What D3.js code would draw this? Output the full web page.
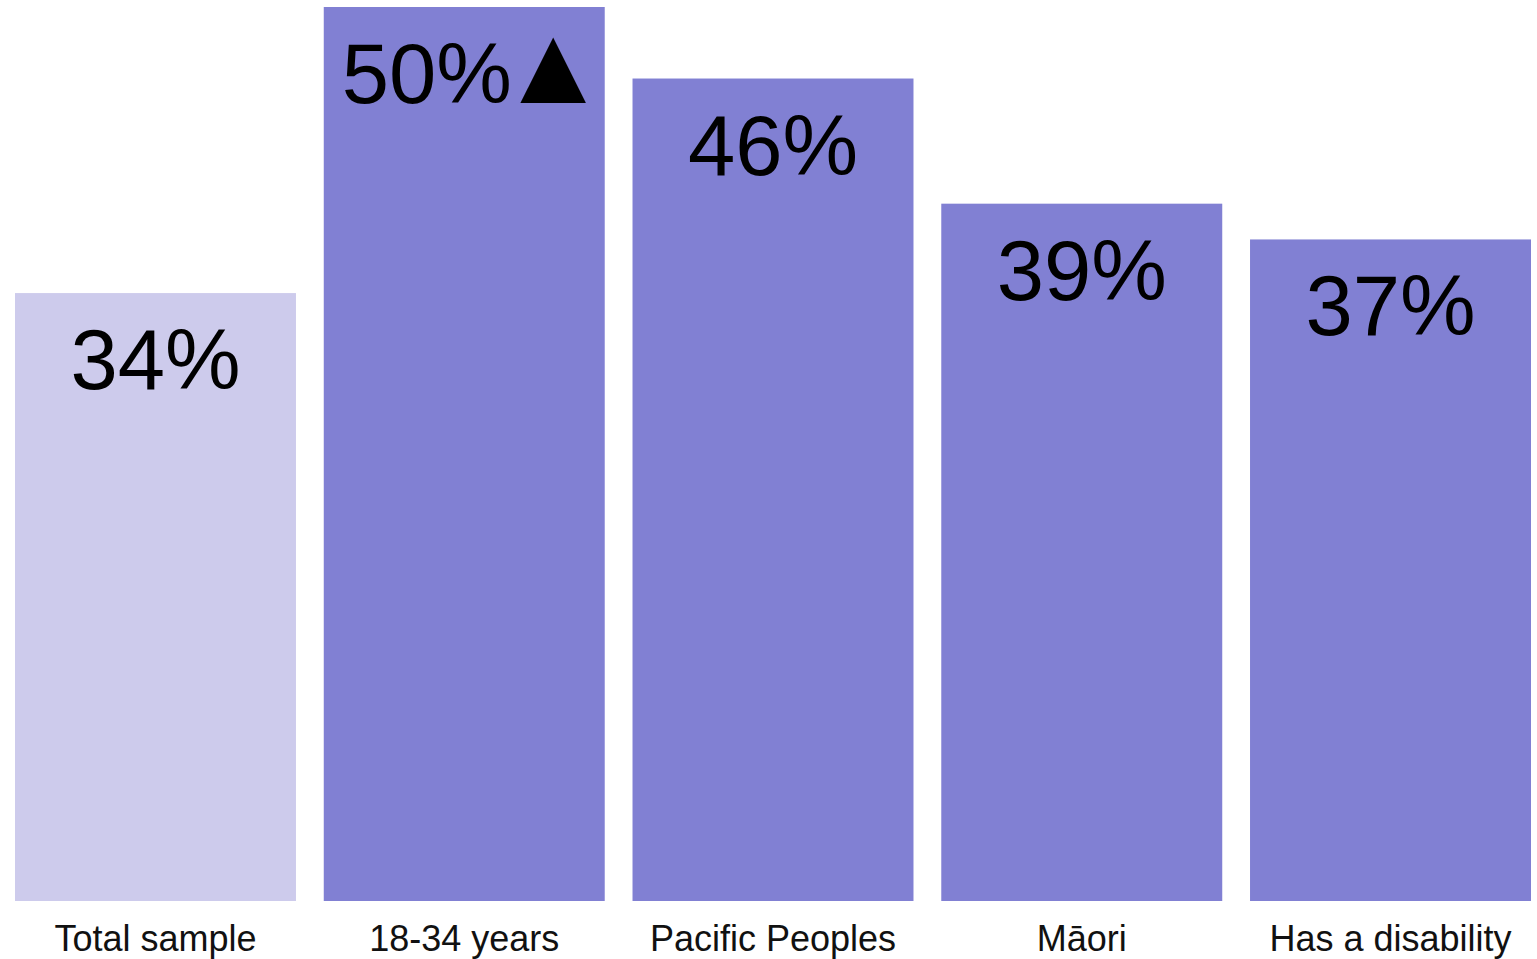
<!DOCTYPE html>
<html>
<head>
<meta charset="utf-8">
<script src="https://cdn.jsdelivr.net/npm/d3@7"></script>
<style>
  html, body { margin: 0; padding: 0; background: #fff; }
  svg { display: block; font-family: "Liberation Sans", Arial, sans-serif; }
</style>
</head>
<body>
<svg width="1537" height="959"></svg>
<script>
// data
var categories = ["Total sample", "18-34 years", "Pacific Peoples", "M\u0101ori", "Has a disability"];
var values = [34, 50, 46, 39, 37];
var flags = ["", "\u25B2", "", "", ""];   // significance marker after the label
var isTotal = [true, false, false, false, false];

var svg = d3.select("svg"),
    margin = {top: 7, right: 6, bottom: 58, left: 15},
    width = +svg.attr("width") - margin.left - margin.right,
    height = +svg.attr("height") - margin.top - margin.bottom,
    chart = svg.append("g").attr("transform", "translate(" + margin.left + "," + margin.top + ")");

var data = categories.map(function(c, i) {
  return {name: c, value: values[i], flag: flags[i], total: isTotal[i]};
});

var xScale = d3.scaleBand()
               .domain(categories)
               .range([0, width])
               .paddingInner(0.09)
               .paddingOuter(0);

// 50% reaches the top of the plot
var yScale = d3.scaleLinear().domain([0, 50]).range([height, 0]);

var barGroup = chart.selectAll(".barG")
                    .data(data)
                    .enter()
                    .append("g")
                    .attr("class", "barG")
                    .attr("transform", function(d) { return "translate(" + xScale(d.name) + ",0)"; });

barGroup.append("rect")
        .attr("x", 0)
        .attr("y", function(d) { return yScale(d.value); })
        .attr("width", xScale.bandwidth())
        .attr("height", function(d) { return height - yScale(d.value); })
        .attr("fill", function(d) { return d.total ? "#cdcbec" : "#8180d3"; });

// value labels inside the top of each bar
// (the triangle glyph has a wide right bearing, so nudge flagged labels right)
var valueText = barGroup.append("text")
        .attr("x", function(d) { return xScale.bandwidth() / 2 + (d.flag ? 11 : 0); })
        .attr("y", function(d) { return yScale(d.value) + 96; })
        .attr("text-anchor", "middle")
        .attr("font-size", 85)
        .attr("fill", "#000");

valueText.append("tspan").text(function(d) { return d.value + "%"; });
valueText.filter(function(d) { return d.flag; })
         .append("tspan")
         .attr("dx", -14)
         .attr("font-size", 112)
         .text(function(d) { return d.flag; });

// category labels under the bars
barGroup.append("text")
        .attr("x", xScale.bandwidth() / 2)
        .attr("y", height + 50)
        .attr("text-anchor", "middle")
        .attr("font-size", 36)
        .attr("fill", "#111")
        .text(function(d) { return d.name; });
</script>
</body>
</html>
